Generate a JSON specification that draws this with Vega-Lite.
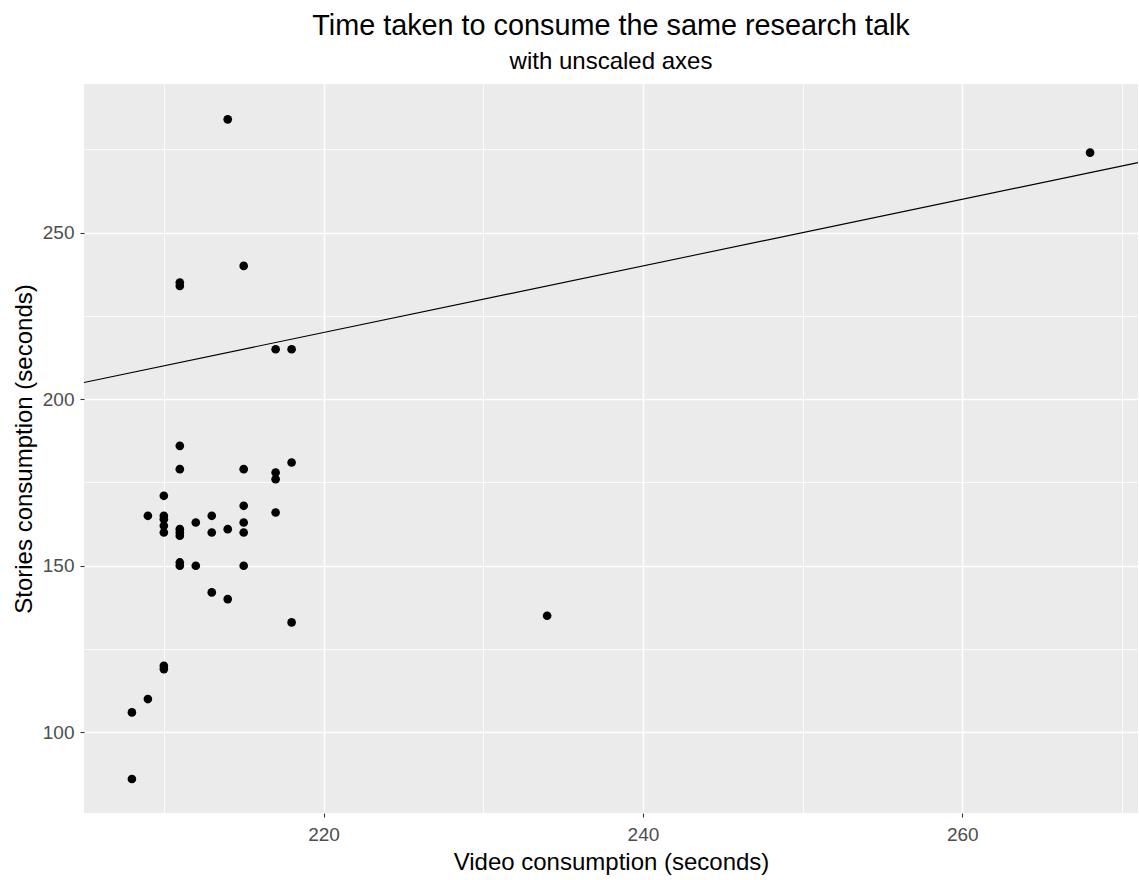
{
  "$schema": "https://vega.github.io/schema/vega-lite/v6.json",
  "width": 1054,
  "height": 729,
  "autosize": {"type": "none"},
  "padding": {"left": 84, "top": 84, "right": 1, "bottom": 67},
  "background": "white",
  "title": {
    "text": "Time taken to consume the same research talk",
    "subtitle": "with unscaled axes",
    "font": "Liberation Sans",
    "fontSize": 28.8,
    "fontWeight": "normal",
    "color": "black",
    "subtitleFont": "Liberation Sans",
    "subtitleFontSize": 24,
    "subtitleColor": "black",
    "subtitlePadding": 9,
    "anchor": "middle",
    "frame": "group",
    "offset": 10
  },
  "config": {
    "view": {"fill": "#EBEBEB", "stroke": null},
    "axis": {
      "domain": false,
      "gridColor": "white",
      "tickColor": "#333333",
      "tickSize": 4,
      "tickWidth": 1.1,
      "labelColor": "#4D4D4D",
      "labelFont": "Liberation Sans",
      "labelFontSize": 19,
      "labelFlush": false,
      "labelOverlap": false,
      "titleFont": "Liberation Sans",
      "titleFontSize": 24,
      "titleFontWeight": "normal",
      "titleColor": "black"
    }
  },
  "datasets": {
    "talks": [
      {"video": 208, "stories": 86},
      {"video": 208, "stories": 106},
      {"video": 209, "stories": 110},
      {"video": 209, "stories": 165},
      {"video": 210, "stories": 119},
      {"video": 210, "stories": 120},
      {"video": 210, "stories": 160},
      {"video": 210, "stories": 162},
      {"video": 210, "stories": 164},
      {"video": 210, "stories": 165},
      {"video": 210, "stories": 171},
      {"video": 211, "stories": 150},
      {"video": 211, "stories": 151},
      {"video": 211, "stories": 159},
      {"video": 211, "stories": 160},
      {"video": 211, "stories": 161},
      {"video": 211, "stories": 179},
      {"video": 211, "stories": 186},
      {"video": 211, "stories": 234},
      {"video": 211, "stories": 235},
      {"video": 212, "stories": 150},
      {"video": 212, "stories": 163},
      {"video": 213, "stories": 142},
      {"video": 213, "stories": 160},
      {"video": 213, "stories": 165},
      {"video": 214, "stories": 140},
      {"video": 214, "stories": 161},
      {"video": 214, "stories": 284},
      {"video": 215, "stories": 150},
      {"video": 215, "stories": 160},
      {"video": 215, "stories": 163},
      {"video": 215, "stories": 168},
      {"video": 215, "stories": 179},
      {"video": 215, "stories": 240},
      {"video": 217, "stories": 166},
      {"video": 217, "stories": 176},
      {"video": 217, "stories": 178},
      {"video": 217, "stories": 215},
      {"video": 218, "stories": 133},
      {"video": 218, "stories": 181},
      {"video": 218, "stories": 215},
      {"video": 234, "stories": 135},
      {"video": 268, "stories": 274}
    ],
    "identity": [
      {"video": 205, "stories": 205},
      {"video": 271, "stories": 271}
    ]
  },
  "layer": [
    {
      "data": {"name": "talks"},
      "mark": {"type": "point", "filled": true, "shape": "circle", "size": 75, "color": "black", "opacity": 1},
      "encoding": {
        "x": {
          "field": "video",
          "type": "quantitative",
          "title": "Video consumption (seconds)",
          "scale": {"domain": [205, 271], "nice": false, "zero": false},
          "axis": {
            "values": [210, 220, 230, 240, 250, 260, 270],
            "labelExpr": "datum.value % 20 === 0 ? datum.label : ''",
            "gridWidth": {"condition": {"test": "datum.value % 20 === 0", "value": 1.6}, "value": 0.8},
            "tickOpacity": {"condition": {"test": "datum.value % 20 === 0", "value": 1}, "value": 0},
            "labelPadding": 8,
            "titlePadding": 6
          }
        },
        "y": {
          "field": "stories",
          "type": "quantitative",
          "title": "Stories consumption (seconds)",
          "scale": {"domain": [75.8, 294.6], "nice": false, "zero": false},
          "axis": {
            "values": [100, 125, 150, 175, 200, 225, 250, 275],
            "labelExpr": "datum.value % 50 === 0 ? datum.label : ''",
            "gridWidth": {"condition": {"test": "datum.value % 50 === 0", "value": 1.6}, "value": 0.8},
            "tickOpacity": {"condition": {"test": "datum.value % 50 === 0", "value": 1}, "value": 0},
            "labelPadding": 6,
            "titlePadding": 6
          }
        }
      }
    },
    {
      "data": {"name": "identity"},
      "mark": {"type": "line", "color": "black", "strokeWidth": 1.1},
      "encoding": {
        "x": {"field": "video", "type": "quantitative"},
        "y": {"field": "stories", "type": "quantitative"}
      }
    }
  ]
}
